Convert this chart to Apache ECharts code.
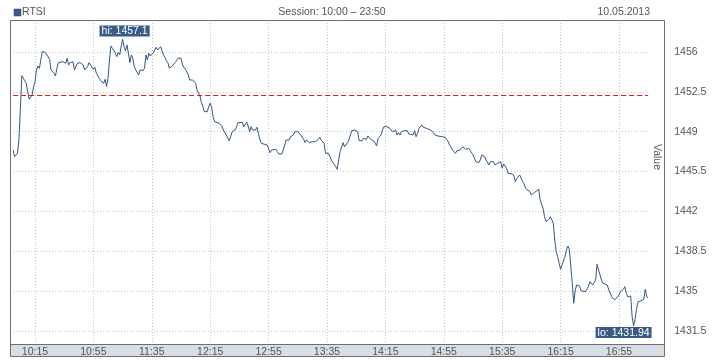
<!DOCTYPE html>
<html><head><meta charset="utf-8">
<script src="https://cdn.jsdelivr.net/npm/echarts@6/dist/echarts.min.js"></script>
<style>html,body{margin:0;padding:0;background:#fff}#c{width:718px;height:360px}</style>
</head><body><div id="c"></div>
<script>
// ---------- data ----------
const seriesName = 'RTSI';
const sessionText = 'Session: 10:00 \u2013 23:50';
const dateText = '10.05.2013';
const axisTitle = 'Value';
const sessionStart = '10:00';
const sessionEnd = '17:15';
const xTickLabels = ['10:15','10:55','11:35','12:15','12:55','13:35','14:15','14:55','15:35','16:15','16:55'];
const yFirstTick = 1431.5;
const yTickStep = 3.5;
const prevClose = 1452.18;

const times = [
'10:00','10:01','10:02','10:03','10:04','10:05','10:06','10:07','10:08','10:09','10:10','10:11','10:12','10:13','10:14','10:15','10:16','10:17','10:18','10:19',
'10:20','10:21','10:22','10:23','10:25','10:26','10:28','10:29','10:30','10:31','10:32','10:34','10:36','10:37','10:38','10:39','10:40','10:41','10:42','10:44',
'10:46','10:47','10:48','10:49','10:51','10:52','10:53','10:55','10:56','10:57','10:59','11:00','11:01','11:02','11:03','11:04','11:05','11:06','11:07','11:08',
'11:10','11:11','11:12','11:13','11:14','11:15','11:16','11:17','11:18','11:19','11:20','11:21','11:22','11:23','11:24','11:25','11:26','11:27','11:29','11:30',
'11:31','11:32','11:33','11:34','11:36','11:37','11:38','11:39','11:41','11:42','11:43','11:44','11:45','11:46','11:47','11:49','11:50','11:51','11:52','11:53',
'11:54','11:55','11:56','11:58','11:59','12:00','12:01','12:02','12:03','12:05','12:06','12:08','12:09','12:10','12:11','12:13','12:14','12:15','12:16','12:17',
'12:18','12:21','12:23','12:24','12:26','12:28','12:29','12:30','12:32','12:33','12:34','12:37','12:38','12:39','12:40','12:41','12:42','12:43','12:44','12:45',
'12:46','12:47','12:48','12:49','12:50','12:51','12:54','12:55','12:56','12:57','12:58','13:00','13:01','13:02','13:04','13:05','13:06','13:07','13:09','13:10',
'13:11','13:12','13:13','13:15','13:17','13:18','13:19','13:20','13:21','13:22','13:23','13:25','13:26','13:27','13:28','13:29','13:30','13:31','13:32','13:33',
'13:34','13:36','13:37','13:38','13:39','13:41','13:42','13:43','13:44','13:45','13:46','13:47','13:49','13:50','13:51','13:52','13:54','13:56','13:57','13:59',
'14:00','14:01','14:02','14:03','14:05','14:06','14:07','14:08','14:09','14:10','14:11','14:12','14:13','14:14','14:16','14:17','14:18','14:19','14:20','14:22',
'14:23','14:24','14:25','14:26','14:27','14:28','14:30','14:31','14:32','14:34','14:35','14:36','14:37','14:38','14:39','14:40','14:41','14:43','14:44','14:46',
'14:47','14:48','14:49','14:50','14:51','14:52','14:54','14:56','14:57','14:58','14:59','15:00','15:01','15:02','15:03','15:04','15:06','15:07','15:08','15:10',
'15:12','15:13','15:15','15:17','15:19','15:20','15:21','15:22','15:23','15:24','15:26','15:27','15:28','15:29','15:30','15:31','15:32','15:34','15:35','15:36',
'15:37','15:38','15:39','15:40','15:42','15:43','15:44','15:45','15:46','15:47','15:48','15:49','15:50','15:51','15:52','15:54','15:55','15:56','15:57','15:58',
'16:00','16:01','16:02','16:03','16:04','16:05','16:06','16:07','16:08','16:09','16:10','16:11','16:12','16:13','16:14','16:15','16:16','16:17','16:18','16:19',
'16:20','16:21','16:22','16:23','16:24','16:25','16:26','16:28','16:29','16:30','16:32','16:33','16:34','16:35','16:36','16:37','16:39','16:40','16:41','16:42',
'16:43','16:44','16:45','16:47','16:48','16:50','16:52','16:53','16:55','16:56','16:58','16:59','17:00','17:01','17:02','17:03','17:04','17:05','17:06','17:07',
'17:08','17:09','17:10','17:12','17:13','17:14','17:15'
];
const values = [
1447.39,1446.81,1446.75,1447.10,1448.27,1451.06,1453.92,1453.69,1453.48,1453.25,1452.51,1451.85,1451.72,1452.22,1452.95,1453.39,1454.42,1454.77,1454.57,1455.30,
1456.03,1456.18,1455.97,1455.82,1455.36,1454.42,1454.13,1453.89,1454.57,1455.06,1455.21,1455.15,1455.01,1455.45,1454.86,1455.06,1455.01,1455.15,1454.42,1455.01,
1455.06,1455.01,1454.86,1454.42,1454.71,1455.06,1455.15,1454.48,1454.66,1454.13,1453.69,1453.48,1453.60,1453.25,1453.60,1452.95,1453.69,1455.30,1456.53,1456.32,
1455.89,1455.59,1455.97,1455.74,1456.47,1457.10,1456.47,1456.11,1456.61,1455.89,1455.06,1455.74,1455.45,1454.71,1454.42,1454.36,1453.98,1454.42,1454.36,1454.57,
1455.74,1455.30,1455.89,1455.65,1455.94,1456.03,1456.41,1456.18,1456.47,1456.41,1455.74,1455.53,1455.24,1455.06,1454.57,1454.77,1454.71,1455.06,1455.24,1455.45,
1455.30,1455.45,1454.86,1454.48,1454.36,1453.98,1453.54,1453.39,1453.54,1453.25,1452.66,1452.14,1451.55,1451.20,1450.76,1450.76,1451.20,1451.50,1451.14,1450.32,
1449.88,1449.74,1449.50,1449.15,1448.71,1448.21,1448.56,1449.00,1449.15,1449.39,1449.79,1449.83,1449.44,1449.44,1449.85,1449.50,1449.00,1449.44,1449.15,1449.30,
1449.15,1449.39,1448.86,1448.33,1447.98,1447.83,1447.83,1447.75,1447.16,1447.39,1447.25,1447.46,1447.25,1447.04,1447.04,1447.39,1447.83,1448.27,1448.27,1448.56,
1448.51,1448.71,1449.00,1449.00,1448.71,1448.56,1448.33,1448.04,1448.27,1448.21,1448.04,1448.12,1448.04,1448.12,1448.21,1448.33,1448.51,1448.27,1448.42,1447.98,
1447.10,1447.10,1446.81,1446.52,1446.28,1445.93,1445.70,1446.52,1447.25,1447.39,1448.04,1447.68,1448.04,1448.27,1448.71,1449.09,1449.15,1449.00,1448.21,1448.21,
1448.42,1448.56,1448.33,1448.62,1448.33,1448.42,1448.21,1448.04,1447.75,1448.42,1448.42,1448.71,1449.15,1449.44,1449.44,1449.30,1449.30,1449.21,1449.00,1449.15,
1448.71,1448.91,1448.71,1449.00,1448.91,1449.09,1449.09,1448.80,1448.91,1448.71,1449.09,1448.56,1448.86,1449.30,1449.30,1449.59,1449.39,1449.30,1449.30,1449.15,
1449.21,1448.91,1448.71,1448.56,1448.62,1448.56,1448.56,1448.51,1448.42,1448.12,1447.83,1447.75,1447.39,1447.25,1447.10,1447.33,1447.39,1447.54,1447.68,1447.45,
1447.54,1447.39,1446.96,1446.37,1446.28,1446.52,1446.96,1447.04,1446.81,1446.52,1446.08,1446.37,1446.46,1446.37,1446.08,1446.23,1446.23,1446.37,1445.79,1446.17,
1446.08,1445.79,1445.35,1445.49,1445.29,1445.11,1444.61,1444.91,1444.76,1445.20,1445.11,1444.61,1444.41,1444.03,1444.17,1443.73,1443.44,1443.59,1443.65,1443.82,
1443.94,1443.00,1442.85,1442.27,1441.54,1441.10,1441.01,1441.31,1441.54,1441.69,1440.96,1439.49,1438.46,1438.03,1437.45,1436.92,1437.30,1437.45,1438.03,1438.61,
1438.96,1438.67,1437.15,1435.69,1433.93,1435.10,1435.54,1435.45,1435.04,1435.10,1434.95,1435.04,1435.39,1435.83,1435.98,1435.54,1435.98,1437.36,1436.86,1436.42,
1435.98,1435.69,1435.83,1435.54,1435.10,1434.51,1434.22,1434.28,1434.66,1434.95,1435.16,1435.39,1434.81,1434.51,1434.37,1434.57,1432.75,1431.94,1432.52,1433.40,
1434.07,1434.22,1434.16,1434.28,1435.16,1434.51,1434.40
];

// ---------- layout / style ----------
const FONT = "'Liberation Sans Narrow', 'Arial Narrow', 'Liberation Sans', sans-serif";
const FS = 10;
const TXT = '#555555';
const LINE_C = '#34567f';
const PLOT_L = 13.1, PLOT_R = 648.2, PLOT_T = 20, TICK_B = 331, FRAME_B = 344;
const PX_PER_UNIT = 39.86 / 3.5;
const yTop = yFirstTick + (TICK_B - PLOT_T) / PX_PER_UNIT;
const yBottom = yFirstTick - (FRAME_B - TICK_B) / PX_PER_UNIT;

const toMin = s => { const p = s.split(':').map(Number); return p[0] * 60 + p[1]; };
const pad = n => (n < 10 ? '0' : '') + n;
const categories = [];
for (let m = toMin(sessionStart); m <= toMin(sessionEnd); m++) categories.push(Math.floor(m / 60) + ':' + pad(m % 60));
const isTick = (i, v) => xTickLabels.indexOf(categories[i]) >= 0;

const seriesData = times.map((t, i) => [toMin(t), values[i]]);

const chart = echarts.init(document.getElementById('c'), null, { renderer: 'canvas' });
chart.setOption({
  animation: false,
  backgroundColor: '#fff',
  textStyle: { fontFamily: FONT },
  grid: [
    { left: PLOT_L, top: PLOT_T, width: PLOT_R - PLOT_L, height: FRAME_B - PLOT_T, outerBoundsMode: 'none', containLabel: false },
    { left: PLOT_L, top: PLOT_T, width: PLOT_R - PLOT_L, height: TICK_B - PLOT_T, outerBoundsMode: 'none', containLabel: false }
  ],
  xAxis: [
    {
      gridIndex: 0, type: 'category', data: categories, boundaryGap: false,
      axisLine: { show: false }, axisTick: { show: false },
      axisLabel: { interval: isTick, margin: 3, color: TXT, fontSize: FS + 0.5, fontFamily: FONT },
      splitLine: { show: true, interval: isTick, lineStyle: { color: '#c4c4c4', type: [1, 2], width: 1 } }
    },
    { gridIndex: 0, type: 'value', min: toMin(sessionStart), max: toMin(sessionEnd), show: false },
    { gridIndex: 1, type: 'value', min: 0, max: 1, show: false }
  ],
  yAxis: [
    { gridIndex: 0, type: 'value', min: yBottom, max: yTop, show: false },
    {
      gridIndex: 1, type: 'value', position: 'right', min: yFirstTick, max: yTop, interval: yTickStep,
      axisLine: { show: false }, axisTick: { show: false },
      axisLabel: { margin: 26, color: TXT, fontSize: FS + 0.5, fontFamily: FONT, showMaxLabel: false,
        formatter: v => String(Math.round(v * 10) / 10) },
      splitLine: { show: true, lineStyle: { color: '#c4c4c4', type: [1, 2], width: 1 } }
    }
  ],
  series: [{
    name: seriesName, type: 'line', xAxisIndex: 1, yAxisIndex: 0,
    data: seriesData, showSymbol: false, symbol: 'none',
    lineStyle: { color: LINE_C, width: 1 }, itemStyle: { color: LINE_C },
    z: 5,
    markLine: {
      silent: true, symbol: ['none', 'none'], label: { show: false },
      lineStyle: { color: '#d81e1e', type: [5, 3], width: 1 },
      data: [{ yAxis: prevClose }]
    },
    markPoint: {
      silent: true, symbolSize: 0,
      data: [
        { type: 'max', valueDim: 'y', name: 'hi',
          label: { show: true, position: 'top', distance: 3, offset: [2, 0], formatter: 'hi: {c}',
            color: '#fff', backgroundColor: '#3b5b84', padding: [1, 2, 0, 2], fontSize: FS + 0.5, lineHeight: 10, fontFamily: FONT } },
        { type: 'min', valueDim: 'y', name: 'lo',
          label: { show: true, position: 'bottom', distance: 1, offset: [-10, 0], formatter: 'lo: {c}',
            color: '#fff', backgroundColor: '#3b5b84', padding: [1, 2, 0, 2], fontSize: FS + 0.5, lineHeight: 10, fontFamily: FONT } }
      ]
    }
  }],
  graphic: [
    { type: 'rect', z: -10, shape: { x: 10, y: FRAME_B, width: 654, height: 12 }, style: { fill: '#d7dee5' } },
    { type: 'rect', z: 100, shape: { x: 10.5, y: 20.5, width: 654, height: 336 }, style: { fill: 'none', stroke: '#6e6e6e', lineWidth: 1 } },
    { type: 'line', z: 100, shape: { x1: 10.5, y1: FRAME_B + 0.5, x2: 664.5, y2: FRAME_B + 0.5 }, style: { stroke: '#6e6e6e', lineWidth: 1 } },
    { type: 'rect', z: 100, shape: { x: 14, y: 9, width: 7, height: 7 }, style: { fill: '#3b5b84', stroke: '#2c4563', lineWidth: 0.5 } },
    { type: 'text', z: 100, x: 22, y: 12.5, style: { text: seriesName, fill: TXT, font: (FS + 0.5) + 'px ' + FONT, verticalAlign: 'middle' } },
    { type: 'text', z: 100, x: 332, y: 12.5, style: { text: sessionText, fill: TXT, font: (FS + 0.5) + 'px ' + FONT, align: 'center', verticalAlign: 'middle' } },
    { type: 'text', z: 100, x: 650, y: 12.5, style: { text: dateText, fill: TXT, font: (FS + 0.5) + 'px ' + FONT, align: 'right', verticalAlign: 'middle' } },
    { type: 'text', z: 100, x: 657, y: 157, rotation: -Math.PI / 2, style: { text: axisTitle, fill: TXT, font: (FS + 0.5) + 'px ' + FONT, align: 'center', verticalAlign: 'middle' } }
  ]
});
</script>
</body></html>
